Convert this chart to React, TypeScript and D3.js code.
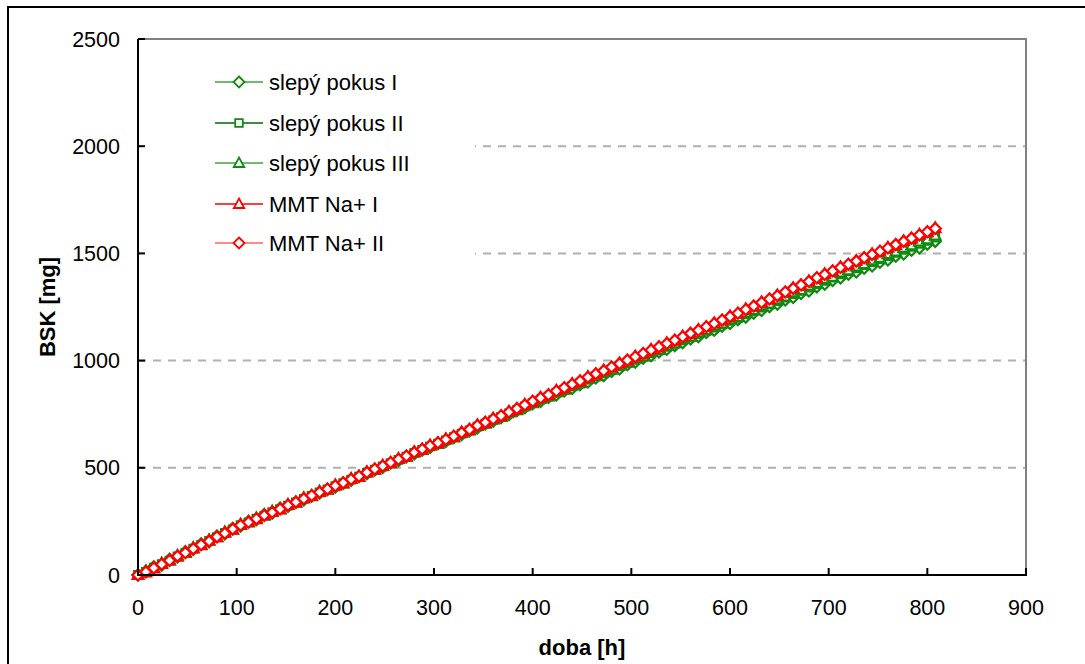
import React from "react";
import * as d3 from "d3";

const hours = [0,8,16,24,32,40,48,56,64,72,80,88,96,104,112,120,128,136,144,152,160,168,176,184,192,200,208,216,224,232,240,248,256,264,272,280,288,296,304,312,320,328,336,344,352,360,368,376,384,392,400,408,416,424,432,440,448,456,464,472,480,488,496,504,512,520,528,536,544,552,560,568,576,584,592,600,608,616,624,632,640,648,656,664,672,680,688,696,704,712,720,728,736,744,752,760,768,776,784,792,800,808];

const slepyI = [0,18,38,46,73,84,109,119,146,154,182,191,218,228,250,258,282,288,312,320,338,350,368,381,398,410,427,441,458,472,490,502,521,533,551,565,582,595,612,623,641,654,672,686,704,717,734,748,766,780,799,810,828,840,858,870,888,900,919,930,950,961,981,993,1011,1023,1040,1053,1070,1083,1101,1112,1131,1142,1160,1173,1191,1203,1221,1234,1252,1263,1283,1294,1313,1325,1344,1356,1374,1385,1403,1413,1431,1441,1459,1469,1487,1497,1515,1525,1543,1556];

const slepyII = [0,15,34,51,67,87,103,123,140,159,177,196,213,233,245,263,277,293,307,324,339,355,369,385,399,414,428,445,459,476,491,506,522,537,552,569,583,600,613,628,643,659,674,692,706,722,737,754,769,786,802,818,832,849,863,880,894,911,926,941,957,973,988,1004,1018,1034,1048,1064,1078,1094,1109,1124,1139,1154,1169,1185,1199,1216,1231,1247,1262,1278,1294,1310,1325,1341,1357,1372,1387,1402,1416,1430,1445,1459,1473,1487,1502,1516,1530,1545,1559,1574];

const slepyIII = [0,19,33,55,67,91,103,127,140,163,177,200,213,237,245,266,277,297,307,328,339,359,368,389,398,418,427,448,458,479,490,509,521,541,551,572,583,603,612,632,642,663,674,696,706,726,737,758,769,790,802,822,833,853,864,884,895,916,927,946,958,978,990,1009,1020,1040,1050,1070,1081,1101,1112,1131,1142,1161,1173,1192,1203,1224,1235,1255,1266,1286,1298,1318,1329,1349,1361,1380,1391,1410,1421,1439,1450,1468,1479,1497,1508,1526,1537,1555,1566,1583];

const mmtI = [0,12,31,52,70,86,106,124,139,160,176,197,212,234,248,260,280,294,306,327,338,358,369,388,399,418,428,449,459,480,492,510,523,542,553,574,585,605,615,634,645,666,677,699,710,730,741,762,774,795,808,828,839,860,871,892,903,924,936,955,968,988,1000,1020,1031,1051,1062,1082,1093,1113,1125,1144,1156,1175,1187,1207,1219,1240,1252,1273,1285,1305,1318,1339,1351,1371,1384,1404,1416,1436,1447,1466,1478,1497,1508,1527,1539,1558,1569,1588,1599,1618];

const mmtII = [0,14,33,50,68,88,104,122,141,158,178,195,214,232,246,262,278,292,308,325,340,356,371,386,401,416,430,447,461,478,494,508,525,540,555,572,587,603,617,632,647,664,679,697,712,728,743,760,776,793,810,826,841,858,873,890,905,922,938,953,970,986,1002,1018,1033,1049,1064,1080,1095,1111,1127,1142,1158,1173,1189,1205,1221,1238,1254,1271,1287,1303,1320,1337,1353,1369,1386,1402,1418,1434,1449,1464,1480,1495,1510,1525,1541,1556,1571,1586,1601,1616];

const xTicks = [0,100,200,300,400,500,600,700,800,900];
const yTicks = [0,500,1000,1500,2000,2500];
const gridValues = [500,1000,1500,2000];

type Marker = "diamond" | "square" | "triangle";
interface Series { name: string; values: number[]; line: string; marker: Marker; mcolor: string; }

const seriesList: Series[] = [
  { name: "slepý pokus I", values: slepyI, line: "#3fa33f", marker: "diamond", mcolor: "#108a10" },
  { name: "slepý pokus II", values: slepyII, line: "#006600", marker: "square", mcolor: "#108a10" },
  { name: "slepý pokus III", values: slepyIII, line: "#3fa33f", marker: "triangle", mcolor: "#108a10" },
  { name: "MMT Na+ I", values: mmtI, line: "#ff0000", marker: "triangle", mcolor: "#ff0000" },
  { name: "MMT Na+ II", values: mmtII, line: "#ff6060", marker: "diamond", mcolor: "#ff0000" },
];

const FONT = "'Liberation Sans', Arial, sans-serif";

function markerPath(m: Marker): string {
  if (m === "diamond") return "M0,-5.5L5.5,0L0,5.5L-5.5,0Z";
  if (m === "square") return "M-3.8,-3.8L3.8,-3.8L3.8,3.8L-3.8,3.8Z";
  return "M0,-5.5L5.2,4L-5.2,4Z";
}

export default function App() {
  const left = 138, right = 1026, top = 39, bottom = 575;
  const x = d3.scaleLinear().domain([0, 900]).range([left, right]);
  const y = d3.scaleLinear().domain([0, 2500]).range([bottom, top]);

  const legendRows = [82, 123, 163, 204, 243];

  return (
    <svg width={1085} height={664} style={{ position: "absolute", left: 0, top: 0, background: "#fff" }}>
      <rect x={0} y={0} width={1085} height={664} fill="#fff" />
      <rect x={8} y={7} width={1200} height={800} fill="none" stroke="#000" strokeWidth={2} />
      {gridValues.map((v) => (
        <line key={v} x1={left} x2={right} y1={y(v)} y2={y(v)} stroke="#b0b0b0" strokeWidth={2} strokeDasharray="8,7" />
      ))}
      <path d={`M${left},${top}L${right},${top}L${right},${bottom}`} fill="none" stroke="#808080" strokeWidth={2} />
      {seriesList.map((s) => {
        const line = d3.line<number>().x((_, i) => x(hours[i])).y((v) => y(v));
        return (
          <g key={s.name}>
            <path d={line(s.values) || ""} fill="none" stroke={s.line} strokeWidth={1.5} />
            {s.values.map((v, i) => (
              <path key={i} d={markerPath(s.marker)} transform={`translate(${x(hours[i])},${y(v)})`} fill="#fff" stroke={s.mcolor} strokeWidth={2.2} />
            ))}
          </g>
        );
      })}
      <rect x={140} y={56} width={335} height={208} fill="#fff" />
      {seriesList.map((s, i) => (
        <g key={s.name} transform={`translate(0,${legendRows[i]})`}>
          <line x1={215} x2={263} y1={0} y2={0} stroke={s.line} strokeWidth={1.5} />
          <path d={markerPath(s.marker)} transform="translate(239,0)" fill="#fff" stroke={s.mcolor} strokeWidth={1.8} />
          <text x={269} y={8} fontFamily={FONT} fontSize={22} fill="#000">{s.name}</text>
        </g>
      ))}
      <line x1={left} x2={left} y1={top} y2={bottom + 1} stroke="#000" strokeWidth={2} />
      <line x1={left - 1} x2={right + 1} y1={bottom} y2={bottom} stroke="#000" strokeWidth={2} />
      {xTicks.map((t) => (
        <g key={t}>
          <line x1={x(t)} x2={x(t)} y1={bottom} y2={bottom - 7} stroke="#000" strokeWidth={2} />
          <text x={x(t)} y={615} textAnchor="middle" fontFamily={FONT} fontSize={21.5} fill="#000">{t}</text>
        </g>
      ))}
      {yTicks.map((t) => (
        <g key={t}>
          <line x1={left} x2={left + 7} y1={y(t)} y2={y(t)} stroke="#000" strokeWidth={2} />
          <text x={120} y={y(t) + 7.5} textAnchor="end" fontFamily={FONT} fontSize={21.5} fill="#000">{t}</text>
        </g>
      ))}
      <text x={582} y={655} textAnchor="middle" fontFamily={FONT} fontSize={22} fontWeight="bold" fill="#000">doba [h]</text>
      <text transform={`translate(55,307) rotate(-90)`} textAnchor="middle" fontFamily={FONT} fontSize={22} fontWeight="bold" fill="#000">BSK [mg]</text>
    </svg>
  );
}
